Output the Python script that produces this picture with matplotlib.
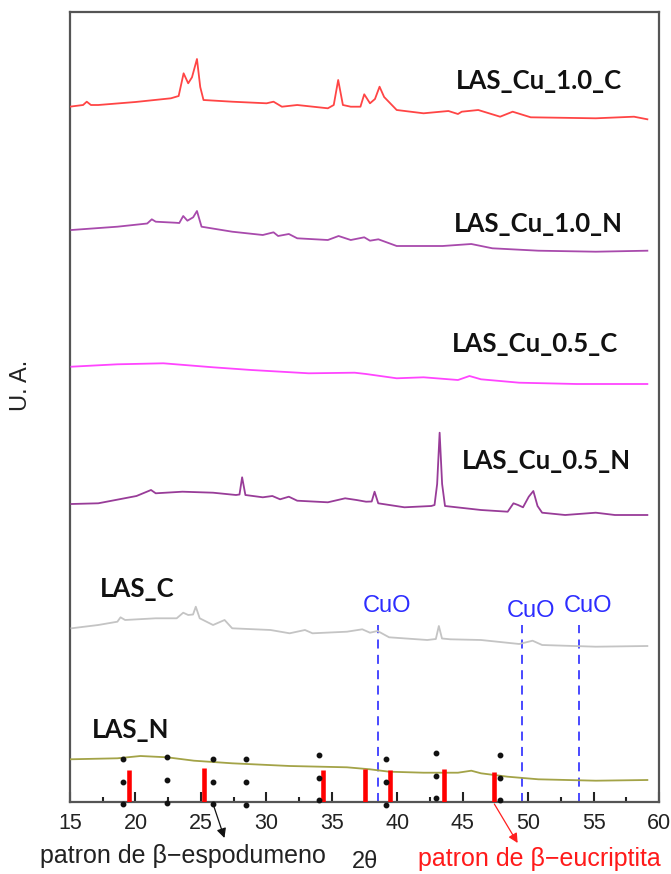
import matplotlib
matplotlib.use("Agg")
import matplotlib.pyplot as plt
from matplotlib.ticker import MultipleLocator
import numpy as np

plt.rcParams["font.family"] = ["Liberation Sans", "DejaVu Sans"]

# ---- data (2theta, arbitrary intensity units) ----
tt_cu10c = [14.97, 16.00, 16.28, 16.60, 17.16, 20.00, 22.71, 23.30, 23.68, 24.03, 24.32, 24.70,
            24.95, 25.20, 27.39, 30.02, 30.55, 31.19, 32.36, 34.70, 35.15, 35.49, 35.85, 36.45,
            37.19, 37.48, 37.92, 38.30, 38.65, 39.00, 39.96, 42.01, 43.91, 44.64, 44.93, 46.19,
            47.86, 48.82, 50.20, 55.17, 58.09, 59.11]
i_cu10c = [695.3, 697.0, 700.3, 697.0, 697.0, 700.0, 703.7, 706.0, 728.7, 718.7, 724.7, 743.0,
           715.0, 702.0, 700.3, 698.7, 700.3, 695.3, 697.0, 693.7, 697.0, 722.0, 697.0, 695.3,
           695.3, 707.7, 698.7, 703.0, 715.3, 705.0, 692.0, 688.7, 691.0, 688.0, 690.3, 692.0,
           685.3, 690.3, 684.7, 683.7, 685.3, 682.7]

tt_cu10n = [15.11, 18.62, 20.90, 21.25, 21.55, 23.01, 23.35, 23.65, 23.97, 24.41, 24.70, 25.05,
            27.39, 29.73, 30.55, 30.90, 31.72, 32.36, 34.70, 35.52, 36.45, 37.48, 37.92, 38.56,
            39.96, 43.47, 45.66, 47.27, 50.78, 55.17, 59.11]
i_cu10n = [572.0, 575.3, 578.5, 582.7, 580.3, 579.3, 579.0, 586.0, 581.3, 584.7, 591.0, 575.3,
           570.3, 567.0, 569.7, 566.0, 568.0, 563.7, 562.0, 566.0, 562.0, 564.7, 561.3, 562.7,
           556.0, 556.0, 558.0, 553.7, 551.3, 550.3, 551.3]

tt_cu05c = [15.11, 18.62, 22.13, 25.93, 28.85, 33.24, 36.75, 37.62, 39.96, 42.01, 44.64, 45.52,
            46.40, 49.32, 53.70, 59.11]
i_cu05c = [435.3, 437.7, 438.7, 434.7, 432.0, 428.7, 429.3, 428.0, 423.7, 424.7, 422.0, 426.0,
           422.7, 419.3, 418.0, 418.0]

tt_cu05n = [15.11, 17.16, 20.08, 21.19, 21.55, 23.59, 25.93, 27.68, 27.95, 28.15, 28.40, 29.73,
            30.46, 31.05, 31.72, 32.36, 34.70, 36.02, 36.89, 37.62, 38.05, 38.27, 38.55, 40.55,
            42.60, 42.85, 43.05, 43.24, 43.43, 43.65, 46.40, 48.44, 48.88, 49.23, 49.61, 50.05,
            50.40, 50.72, 51.07, 52.83, 55.17, 56.63, 59.11]
i_cu05n = [298.0, 298.7, 306.0, 312.0, 308.7, 310.3, 309.3, 307.0, 307.5, 324.7, 307.0, 304.7,
           306.0, 302.7, 305.3, 301.3, 299.7, 303.7, 302.0, 300.3, 300.5, 310.3, 298.7, 294.7,
           296.0, 297.0, 318.0, 369.3, 318.0, 296.0, 292.0, 290.3, 298.7, 297.0, 294.7, 305.3,
           311.0, 296.0, 289.3, 287.0, 289.3, 287.0, 287.0]

tt_lasc = [15.11, 17.16, 18.62, 18.86, 19.21, 21.55, 23.15, 23.65, 24.03, 24.40, 24.61, 24.91,
           25.93, 26.81, 27.39, 30.32, 31.78, 32.95, 33.53, 36.16, 37.33, 37.92, 38.50, 39.38,
           42.30, 42.95, 43.18, 43.42, 44.06, 46.40, 49.32, 50.34, 51.07, 55.17, 59.11]
i_lasc = [173.7, 177.0, 180.3, 184.7, 182.0, 183.7, 183.7, 189.3, 187.0, 187.5, 195.3, 183.7,
          177.0, 182.0, 173.7, 172.0, 168.7, 172.0, 168.7, 170.3, 172.7, 169.3, 171.0, 164.7,
          162.0, 163.0, 176.0, 163.5, 162.7, 162.0, 158.0, 161.3, 157.0, 155.3, 156.0]

tt_lasn = [14.97, 18.62, 20.38, 22.42, 24.47, 27.39, 31.78, 36.16, 37.92, 39.38, 42.01, 44.64,
           45.66, 46.40, 48.44, 50.78, 55.17, 59.11]
i_lasn = [42.7, 43.7, 46.0, 44.7, 41.3, 38.7, 36.0, 34.7, 32.7, 30.3, 29.3, 29.3,
          31.3, 28.7, 25.3, 22.7, 21.3, 22.0]

# beta-eucryptite reference pattern (red bars)
eucr_pos = [19.50, 25.20, 34.32, 37.54, 39.44, 43.56, 47.42]
eucr_h = [32.0, 34.3, 32.0, 32.7, 32.0, 32.7, 30.3]

# beta-spodumene reference pattern (dotted black lines): position, bottom, top
espo_pos = [19.06, 22.42, 25.93, 28.47, 34.06, 39.17, 42.97, 47.86]
espo_bot = [-2.0, -0.7, -2.0, -3.0, 2.0, -3.0, 3.7, 2.0]
espo_top = [42.7, 44.7, 42.7, 42.7, 47.0, 42.7, 48.7, 47.0]

# CuO reflections
cuo_pos = [38.50, 49.52, 53.91]
cuo_top = 177.0
cuo_lbl_y = [196.3, 191.3, 196.3]

curves = [
    (tt_cu10c, i_cu10c, "#ff4545", "LAS_Cu_1.0_C", 44.49, 712.7),
    (tt_cu10n, i_cu10n, "#a84aac", "LAS_Cu_1.0_N", 44.34, 570.3),
    (tt_cu05c, i_cu05c, "#ff45ff", "LAS_Cu_0.5_C", 44.18, 450.3),
    (tt_cu05n, i_cu05n, "#983c98", "LAS_Cu_0.5_N", 44.95, 332.7),
    (tt_lasc, i_lasc, "#c4c4c4", "LAS_C", 17.29, 204.7),
    (tt_lasn, i_lasn, "#a3a347", "LAS_N", 16.67, 63.7),
]

fig = plt.figure(figsize=(6.71, 8.74), dpi=100)
ax = fig.add_axes([70 / 671, 1 - 802 / 874, 589 / 671, 790 / 874])

for tt, inten, col, lbl, lx, ly in curves:
    ax.plot(tt, inten, color=col, lw=1.3, zorder=3)
    ax.text(lx, ly, lbl, family=["Lato", "DejaVu Sans"], fontweight="bold",
            fontsize=18.5, color="#111111", va="baseline", ha="left")

# CuO dashed markers
for p in cuo_pos:
    ax.plot([p, p], [0, cuo_top], color="#3a3aff", lw=1.3, ls=(0, (5, 3.5)), zorder=2)
for p, yl in zip(cuo_pos, cuo_lbl_y):
    ax.text(p + 0.7, yl, "CuO", color="#2d2dff", fontsize=17, ha="center", va="center")

# reference patterns
ax.vlines(eucr_pos, 0, eucr_h, color="#ff0000", lw=3.3, zorder=4)
for p, b, t in zip(espo_pos, espo_bot, espo_top):
    ax.plot([p] * 3, np.linspace(b, t, 3), ls="none", marker="o", ms=3.2,
            color="#111111", zorder=5, clip_on=False)

ax.set_xlim(15, 60)
ax.set_ylim(0, 790)
ax.set_yticks([])
ax.xaxis.set_major_locator(MultipleLocator(5))
ax.xaxis.set_minor_locator(MultipleLocator(2.5))
ax.tick_params(axis="x", which="major", direction="in", length=7, width=1.5,
               labelsize=15.5, colors="#222222", pad=8)
ax.tick_params(axis="x", which="minor", direction="in", length=3.5, width=1.5,
               colors="#222222")
for sp in ax.spines.values():
    sp.set_color("#555555")
    sp.set_linewidth(1.6)

ax.set_ylabel("U. A.", fontsize=17, color="#222222")
ax.yaxis.set_label_coords(-0.064, 0.528)

# annotations under the axis
ax.annotate("", xy=(26.8, -36), xytext=(25.93, -2),
            arrowprops=dict(arrowstyle="-|>", color="#111111", lw=0.9,
                            mutation_scale=14, shrinkA=0, shrinkB=0),
            annotation_clip=False)
ax.annotate("", xy=(49.2, -41), xytext=(47.42, -2),
            arrowprops=dict(arrowstyle="-|>", color="#ff2020", lw=0.9,
                            mutation_scale=14, shrinkA=0, shrinkB=0),
            annotation_clip=False)
fig.text(40 / 671, 1 - 863 / 874, "patron de \u03b2\u2212espodumeno", fontsize=18,
         color="#222222", ha="left", va="baseline")
fig.text(365 / 671, 1 - 868 / 874, "2\u03b8", fontsize=17, color="#222222",
         ha="center", va="baseline")
fig.text(418 / 671, 1 - 866 / 874, "patron de \u03b2\u2212eucriptita", fontsize=18,
         color="#ff1a1a", ha="left", va="baseline")

fig.savefig("out.png", dpi=100)
